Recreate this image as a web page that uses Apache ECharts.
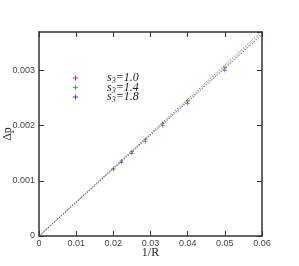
<!DOCTYPE html>
<html><head><meta charset="utf-8">
<script src="https://cdn.jsdelivr.net/npm/echarts@6/dist/echarts.min.js"></script>
<style>html,body{margin:0;padding:0;background:#fff}#c{width:299px;height:266px}</style>
</head><body><div id="c"></div>
<script>
// 1/R values of the measured points
var xPoints = [0.02, 0.0222, 0.025, 0.0286, 0.0333, 0.04, 0.05];
var redY   = [0.00122, 0.00136, 0.00153, 0.00175, 0.00205, 0.00245, 0.00305];
var greenY = [0.00122, 0.00136, 0.00153, 0.00175, 0.00204, 0.00244, 0.00305];
var blueY  = [0.00121, 0.00133, 0.0015, 0.00171, 0.002, 0.0024, 0.0030];
// fitted lines (start and end points)
var lineX = [0, 0.06];
var redLineY = [0, 0.00372];
var greenLineY = [0, 0.00368];
var blueLineY = [0, 0.00365];
var legendValues = ['1.0', '1.4', '1.8'];
var colors = ['#ee2222', '#22cc22', '#3333ee'];

function pairs(xs, ys){ return xs.map(function(x,i){return [x, ys[i]];}); }
function fmt(v){ if (v === 0) return '0'; return String(parseFloat(v.toFixed(4))); }

var plus = 'path://M-0.5,-3H0.5V-0.5H3V0.5H0.5V3H-0.5V0.5H-3V-0.5H-0.5Z';
var chart = echarts.init(document.getElementById('c'), null, {renderer:'canvas'});
var axisColor = '#333';
var serif = 'Liberation Serif, Times New Roman, serif';
var labelStyle = {color:'#444', fontSize:9, fontFamily:'Liberation Sans, Arial, sans-serif'};
var pointSets = [redY, greenY, blueY];
var lineSets = [redLineY, greenLineY, blueLineY];
var series = [];
for (var k = 0; k < 3; k++) {
  series.push({type:'line', data: pairs(lineX, lineSets[k]), showSymbol:false, symbol:'none',
    lineStyle:{color:colors[k], width:1, type:[1,1.5]}, silent:true, z:2});
}
for (var k = 0; k < 3; k++) {
  series.push({type:'scatter', name: 's3=' + legendValues[k], data: pairs(xPoints, pointSets[k]),
    symbol: plus, symbolSize: 4, itemStyle:{color:colors[k]}, z:3+k});
}
var graphics = [];
for (var k = 0; k < 3; k++) {
  var yy = 78 + k * 9.5;
  graphics.push({type:'rect', shape:{x:73, y:yy - 0.5, width:5, height:1}, style:{fill: colors[k]}});
  graphics.push({type:'rect', shape:{x:75, y:yy - 2.5, width:1, height:5}, style:{fill: colors[k]}});
  graphics.push({type:'text', x:107, y:yy, style:{
    text: '{i|s}{sub|3}{i|=' + legendValues[k] + '}', verticalAlign:'middle',
    rich:{
      i:{fontFamily:serif, fontStyle:'italic', fontSize:12, fill:'#222'},
      sub:{fontFamily:serif, fontStyle:'italic', fontSize:8, fill:'#222', verticalAlign:'bottom', padding:[6,0,0,0]}
    }}});
}
chart.setOption({
  animation:false,
  backgroundColor:'#fff',
  grid:{left:39, top:32, width:223, height:204, containLabel:false, outerBoundsMode:'none'},
  graphic: graphics,
  xAxis:[{
    type:'value', min:0, max:0.06, interval:0.01, position:'bottom',
    name:'1/R', nameLocation:'middle', nameGap:11, nameMoveOverlap:false,
    nameTextStyle:{fontFamily:serif, fontSize:12, color:'#222', verticalAlign:'top'},
    axisLine:{show:true, onZero:false, lineStyle:{color:axisColor, width:1.5}},
    axisTick:{show:true, inside:true, length:5, lineStyle:{color:axisColor}},
    axisLabel:Object.assign({margin:3, formatter:fmt}, labelStyle),
    splitLine:{show:false}
  },{
    type:'value', min:0, max:0.06, interval:0.01, position:'top',
    axisLine:{show:true, onZero:false, lineStyle:{color:axisColor, width:1.5}},
    axisTick:{show:true, inside:true, length:5, lineStyle:{color:axisColor}},
    axisLabel:{show:false}, splitLine:{show:false}
  }],
  yAxis:[{
    type:'value', min:0, max:0.0037, interval:0.001, position:'left',
    name:'Δp', nameLocation:'middle', nameGap:25, nameRotate:90, nameMoveOverlap:false,
    nameTextStyle:{fontFamily:serif, fontSize:12, color:'#222'},
    axisLine:{show:true, onZero:false, lineStyle:{color:axisColor, width:1.5}},
    axisTick:{show:true, inside:true, length:5, lineStyle:{color:axisColor}},
    axisLabel:Object.assign({margin:4, showMaxLabel:false, formatter:function(v){ return v > 0.0035 ? '' : fmt(v); }}, labelStyle),
    splitLine:{show:false}
  },{
    type:'value', min:0, max:0.0037, interval:0.001, position:'right',
    axisLine:{show:true, onZero:false, lineStyle:{color:axisColor, width:1.5}},
    axisTick:{show:true, inside:true, length:5, lineStyle:{color:axisColor}},
    axisLabel:{show:false}, splitLine:{show:false}
  }],
  series: series
});
</script></body></html>
